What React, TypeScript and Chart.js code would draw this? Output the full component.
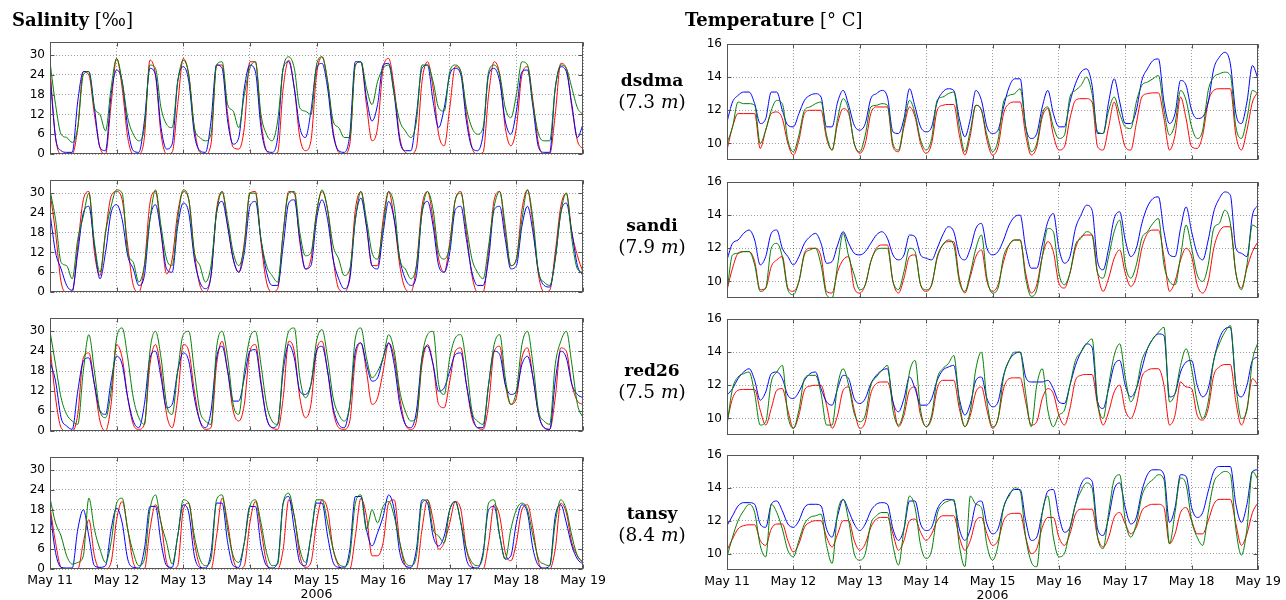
import React, { useEffect, useRef } from "react";
import { Chart, registerables } from "chart.js";

Chart.register(...registerables);

// ---------- axes / labels ----------
const HOURS: number[] = Array.from({ length: 97 }, (_, i) => i * 2); // hours after May 11 00:00, 2 h step
const DAY_TICKS = [0, 24, 48, 72, 96, 120, 144, 168, 192];
const DAY_LABELS = ["May 11", "May 12", "May 13", "May 14", "May 15", "May 16", "May 17", "May 18", "May 19"];
const YEAR_LABEL = "2006";
const SAL_TICKS = [0, 6, 12, 18, 24, 30];
const TEMP_TICKS = [10, 12, 14, 16];
const STATIONS = ["dsdma", "sandi", "red26", "tansy"];
const DEPTHS = ["7.3", "7.9", "7.5", "8.4"];

// ---------- salinity (‰), one value every 2 h, May 11 00:00 .. May 19 00:00 ----------
const dsdmaSalRed = [
  26, 5, 0, 0, 0, 8, 25, 24, 12, 2, 0, 15,
  29, 20, 5, 0, 0, 5, 28.5, 24, 6, 0, 0.5, 15,
  29, 24, 8, 0.5, 0, 3, 27, 27, 12, 2, 1.5, 8,
  28, 28, 10, 1, 0, 0.5, 20, 28.5, 20, 5, 1, 4,
  24, 29.5, 22, 7, 0.5, 0, 3, 27, 28, 15, 4, 8,
  26, 29, 20, 5, 0.5, 0, 2, 22, 28, 20, 6, 2.5,
  14, 26.5, 25, 12, 2, 0, 0.5, 18, 28, 24, 8, 2.5,
  8, 24, 26.5, 16, 3, 0, 0, 12, 27.5, 26, 14, 4,
  1.5,
];
const dsdmaSalBlue = [
  24, 5, 1, 0.5, 0.5, 16, 25, 25, 14, 2, 1, 18,
  25.5, 22, 8, 1, 0.5, 10, 26, 24, 8, 1.5, 3, 22,
  26.5, 22, 6, 1, 0.5, 10, 27, 26, 10, 3, 5, 20,
  27, 25, 8, 1, 0.5, 5, 26, 28, 20, 8, 5, 13,
  26, 27.5, 20, 6, 1, 0.5, 6, 28, 28, 17, 10, 15,
  27, 27.5, 18, 4, 1, 1, 12, 26, 27, 16, 8, 14,
  24, 26, 24, 10, 2, 1, 6, 24, 26, 22, 10, 6,
  13, 25, 25.5, 14, 2, 0.5, 0.5, 20, 26.5, 25, 15, 5,
  9,
];
const dsdmaSalGreen = [
  28, 15, 6, 5, 3.5, 8, 24, 25, 14, 12, 7, 20,
  29, 22, 11, 6, 4, 8, 27, 26, 14, 9, 8, 22,
  28.5, 24, 8, 5, 4, 6, 27, 28, 15, 13, 8, 18,
  26, 28, 12, 6, 4, 10, 26, 29.5, 26, 14, 13, 12,
  27, 29.5, 22, 10, 8, 5, 5, 27, 28, 20, 15, 22,
  26, 27, 18, 10, 7, 5, 10, 27, 27, 22, 14, 13,
  25, 27, 25, 14, 8, 6, 8, 25, 27, 24, 14, 11,
  18, 28, 27, 15, 6, 4, 4, 20, 27, 26, 20, 14,
  12,
];

const sandiSalRed = [
  30.5, 18, 3, 0, 0, 14, 28, 30.5, 12, 5, 18, 29,
  30.5, 28, 14, 2, 0, 8, 27, 30.5, 18, 5.5, 10, 24,
  30.5, 28, 12, 2, 0, 5, 25, 30.5, 20, 10, 6, 15,
  30, 30.5, 15, 3, 0, 1, 18, 30.5, 30, 15, 7, 10,
  24, 30.5, 25, 10, 1, 0, 5, 25, 30.5, 20, 8, 8,
  22, 30.5, 22, 8, 1, 0, 8, 26, 30.5, 22, 10, 6,
  15, 28, 30.5, 18, 5, 0, 0, 12, 28, 30.5, 18, 8,
  10, 25, 31, 20, 5, 0, 0.5, 12, 26, 30, 18, 11,
  6,
];
const sandiSalBlue = [
  24, 12, 7, 2, 0.5, 12, 24, 26, 14, 4, 12, 24,
  26.5, 22, 11, 7, 2, 5, 22, 26.5, 18, 7, 6, 20,
  27, 24, 10, 3, 1, 5, 24, 27.5, 20, 10, 6, 12,
  26, 27.5, 16, 6, 2, 2, 14, 27, 28, 16, 7, 8,
  22, 28, 22, 10, 4, 1, 4, 22, 28.5, 20, 8, 7,
  18, 27.5, 22, 10, 4, 2, 5, 24, 27.5, 20, 8, 6,
  12, 25, 26, 16, 6, 2, 2, 10, 25, 26, 16, 7,
  8, 20, 26, 18, 6, 2, 1.5, 10, 24, 27, 18, 8,
  5,
];
const sandiSalGreen = [
  31, 22, 9, 8, 4, 16, 23, 30, 15, 6, 18, 26,
  31, 30, 12, 9, 3, 8, 22, 31, 20, 10, 8, 22,
  31, 28, 12, 8, 3, 8, 24, 30.5, 22, 12, 8, 14,
  30, 30, 16, 8, 5, 3, 18, 30, 30.5, 18, 11, 12,
  24, 31, 25, 14, 10, 5, 7, 22, 30.5, 22, 12, 10,
  20, 30.5, 26, 10, 7, 4, 8, 24, 30.5, 25, 12, 10,
  14, 28, 30, 20, 10, 6, 4, 14, 26, 30.5, 20, 8,
  10, 22, 31, 22, 6, 3, 2, 10, 24, 30, 16, 7,
  6,
];

const red26SalRed = [
  25.5, 10, 1, 0, 0, 5, 22, 23.5, 14, 3, 0, 8,
  26, 22, 10, 2, 0.5, 2, 20, 26, 18, 5, 1, 10,
  26, 24, 12, 3, 0.5, 1, 20, 27, 18, 6, 3, 8,
  24, 26, 15, 4, 1, 0.5, 10, 27, 24, 10, 4, 8,
  24, 27, 18, 6, 1, 0.5, 3, 22, 26.5, 18, 8, 10,
  18, 26.5, 22, 10, 2, 0.5, 3, 20, 26, 20, 8, 7,
  15, 24, 25, 14, 4, 1, 0.5, 8, 24, 25.5, 14, 8,
  10, 22, 25, 16, 5, 1, 0.5, 10, 25, 24, 14, 9,
  8,
];
const red26SalBlue = [
  21, 15, 4, 1.5, 0.5, 12, 21, 22, 14, 6, 5, 15,
  22.5, 20, 10, 3, 1, 8, 22, 24, 16, 7, 8, 18,
  23.5, 21, 10, 3, 1, 6, 22, 25.5, 18, 9, 9, 16,
  24, 24.5, 14, 4, 1, 2, 18, 26, 22, 12, 11, 14,
  24, 25.5, 18, 7, 2, 1, 8, 24, 26.5, 20, 15, 16,
  22, 26.5, 20, 8, 2, 1, 6, 22, 25.5, 20, 12, 13,
  18, 23, 23.5, 14, 5, 1, 1, 14, 24, 23, 14, 11,
  12, 20, 22.5, 16, 5, 1, 0.5, 15, 24, 22, 14, 11,
  10,
];
const red26SalGreen = [
  30, 20, 10, 5, 3, 2, 18, 29, 18, 6, 4, 12,
  28, 31, 22, 10, 4, 2, 24, 30, 22, 8, 5, 18,
  29, 30, 18, 6, 3, 2, 25, 30, 22, 8, 5, 18,
  28, 30, 20, 8, 3, 2, 20, 30, 31, 16, 10, 14,
  27, 30.5, 22, 10, 5, 3, 8, 28, 31, 22, 16, 18,
  22, 29, 24, 12, 6, 3, 4, 22, 29, 30, 14, 11,
  22, 28, 29, 20, 6, 3, 2, 14, 26, 29, 16, 8,
  12, 26, 30, 20, 6, 3, 2, 20, 27, 30, 20, 8,
  4,
];

const tansySalRed = [
  19, 8, 0.5, 0, 0, 0, 8, 15, 4, 0, 0, 2,
  15, 20.5, 12, 2, 0, 0, 12, 19.5, 14, 2, 0, 1,
  18, 20, 8, 1, 0, 0, 10, 21.5, 14, 3, 0, 1,
  14, 20.5, 12, 2, 0, 0, 6, 21, 16, 4, 0.5, 2,
  14, 21, 18, 6, 1, 0, 0, 10, 21.5, 16, 4, 4,
  8, 20, 21, 8, 1, 0, 0, 12, 21, 15, 6, 8,
  14, 20.5, 18, 6, 1, 0, 0, 8, 19.5, 16, 5, 2.5,
  8, 18, 19.5, 12, 2, 0, 0, 6, 20, 17, 8, 4,
  2,
];
const tansySalBlue = [
  17.5, 5, 0.5, 0.3, 0.3, 12, 18, 10, 1, 0.5, 1, 12,
  18.5, 14, 3, 0.5, 0.3, 6, 19, 19, 8, 1, 0.5, 10,
  19.5, 17, 4, 0.5, 0.3, 5, 20, 20, 8, 1, 0.5, 8,
  19, 19, 7, 1, 0.3, 2, 20, 22, 12, 2, 1, 10,
  20, 20, 10, 2, 0.5, 0.3, 6, 22, 22, 12, 7, 11,
  16, 22.5, 18, 5, 1, 0.5, 6, 21, 20, 10, 7, 10,
  18, 20.5, 14, 3, 0.5, 0.3, 5, 18, 19, 10, 3, 4,
  14, 19.5, 17, 6, 1, 0.3, 1, 16, 19.5, 14, 7, 3,
  1.5,
];
const tansySalGreen = [
  21.5, 14, 10, 4, 1.5, 2, 4, 21.5, 12, 6, 2, 8,
  20, 21.5, 12, 5, 1, 3, 18, 22.5, 14, 8, 1.5, 10,
  21, 20, 10, 3, 1, 3, 21, 22.5, 12, 4, 2, 8,
  19, 21, 14, 5, 1, 1.5, 20, 23, 16, 6, 2, 10,
  21, 21, 14, 6, 1.5, 0.8, 4, 20, 22.5, 12, 18, 14,
  19, 20.5, 16, 8, 2, 1, 4, 20, 21, 12, 10, 8,
  18, 20.5, 14, 6, 2, 1, 4, 20, 21, 10, 3, 12,
  18, 20, 18, 10, 3, 1.5, 1, 14, 21, 18, 10, 4,
  2,
];

// ---------- temperature (°C), one value every 2 h ----------
const dsdmaTempRed = [
  9.6, 11.0, 11.8, 11.8, 11.8, 11.8, 9.7, 10.8, 11.8, 11.9, 11.5, 10.0,
  9.3, 10.2, 11.8, 12.0, 12.0, 12.0, 10.3, 9.6, 11.2, 12.1, 11.8, 10.0,
  9.4, 10.0, 11.8, 12.2, 12.2, 12.2, 9.8, 9.5, 11.0, 12.2, 11.6, 10.0,
  9.4, 10.0, 12.0, 12.3, 12.35, 12.35, 10.5, 9.3, 10.5, 12.3, 12.0, 10.2,
  9.3, 9.8, 11.8, 12.4, 12.5, 12.5, 10.5, 9.3, 9.8, 11.6, 12.1, 10.5,
  9.6, 9.8, 11.5, 12.6, 12.7, 12.7, 12.5, 9.8, 9.6, 11.0, 12.5, 11.2,
  9.8, 9.6, 11.2, 12.8, 13.0, 13.05, 13.05, 11.5, 9.6, 10.5, 12.8, 11.5,
  9.8, 9.7, 10.5, 12.5, 13.2, 13.3, 13.3, 13.3, 10.5, 9.6, 10.8, 12.5,
  13.1,
];
const dsdmaTempBlue = [
  11.3, 12.5, 12.9, 13.1, 13.1, 12.4, 11.2, 11.5, 13.1, 13.1, 12.0, 11.1,
  11.0, 11.8, 12.6, 12.9, 13.0, 12.8, 11.0, 11.0, 12.5, 13.2, 12.3, 11.1,
  10.8, 11.2, 12.7, 13.0, 13.2, 12.8, 10.7, 10.6, 11.5, 13.3, 12.2, 11.0,
  10.7, 11.0, 12.5, 13.1, 13.3, 13.2, 11.5, 10.4, 11.5, 13.2, 12.6, 11.0,
  10.6, 10.8, 12.2, 13.4, 13.9, 13.9, 11.0, 10.3, 10.6, 12.2, 13.2, 11.8,
  11.0, 11.0, 12.5, 13.6, 14.3, 14.5, 13.5, 10.6, 10.6, 12.5, 13.9, 12.5,
  11.2, 11.2, 12.0, 13.8, 14.5, 15.0, 15.1, 12.5, 11.2, 11.8, 13.8, 13.5,
  12.0, 11.5, 11.6, 12.5, 14.5, 15.2, 15.5, 14.8, 11.8, 11.2, 12.5, 14.7,
  13.9,
];
const dsdmaTempGreen = [
  10.0, 11.0, 12.5, 12.4, 12.4, 12.3, 10.0, 10.8, 12.0, 12.6, 12.4, 10.2,
  9.5, 10.5, 12.0, 12.2, 12.4, 12.5, 10.5, 9.6, 11.5, 12.7, 12.0, 10.0,
  9.5, 10.5, 12.2, 12.3, 12.4, 12.3, 10.0, 9.6, 11.2, 12.6, 11.8, 10.2,
  9.6, 10.3, 12.6, 12.8, 13.0, 13.1, 11.0, 9.5, 10.8, 12.3, 12.0, 10.5,
  9.5, 10.2, 12.5, 12.9, 13.0, 13.3, 11.0, 9.5, 10.0, 11.8, 12.2, 11.0,
  10.3, 10.5, 12.8, 13.2, 13.5, 14.0, 13.0, 10.7, 10.6, 12.0, 12.8, 11.8,
  11.0, 10.9, 12.5, 13.5, 13.7, 13.9, 14.1, 12.0, 10.5, 11.2, 13.2, 12.6,
  11.0, 10.3, 10.8, 13.2, 14.0, 14.2, 14.3, 14.1, 11.0, 10.3, 11.5, 13.2,
  13.0,
];

const sandiTempRed = [
  9.5, 10.8, 11.7, 11.8, 11.8, 11.2, 9.5, 9.6, 10.9, 11.3, 11.5, 9.6,
  9.4, 10.0, 11.7, 12.0, 12.0, 11.5, 9.4, 9.3, 10.6, 11.3, 11.5, 9.6,
  9.3, 9.8, 11.2, 12.0, 12.2, 12.2, 10.0, 9.3, 10.2, 11.5, 11.6, 9.8,
  9.4, 9.8, 11.4, 12.2, 12.4, 12.4, 10.2, 9.3, 10.3, 11.5, 11.9, 10.0,
  9.4, 9.8, 11.2, 12.2, 12.5, 12.5, 10.5, 9.3, 9.8, 11.5, 12.4, 11.8,
  9.9, 9.6, 10.5, 12.0, 12.7, 12.8, 12.8, 10.5, 9.4, 10.2, 11.4, 11.9,
  10.5, 9.7, 10.3, 12.0, 12.9, 13.1, 13.1, 11.5, 9.4, 10.0, 11.3, 12.0,
  11.5, 9.8, 9.3, 10.0, 12.0, 13.0, 13.3, 13.3, 10.5, 9.6, 10.8, 11.8,
  12.4,
];
const sandiTempBlue = [
  11.3, 12.3, 12.5, 12.9, 13.1, 12.5, 11.0, 11.5, 12.9, 13.1, 12.0, 11.5,
  11.0, 11.5, 12.3, 12.7, 12.9, 12.3, 11.1, 11.2, 12.2, 13.0, 12.3, 11.7,
  11.6, 11.8, 12.3, 12.8, 13.0, 12.6, 11.6, 11.3, 11.6, 12.8, 12.7, 11.6,
  11.4, 11.3, 12.0, 12.8, 13.3, 13.0, 11.6, 11.3, 12.0, 13.2, 13.5, 12.0,
  11.6, 11.8, 12.5, 13.4, 13.9, 14.0, 12.0, 10.8, 10.8, 12.2, 13.6, 14.1,
  12.0, 11.1, 11.5, 13.2, 14.0, 14.6, 14.3, 11.2, 10.7, 12.0, 13.8, 14.2,
  12.5, 11.5, 12.0, 13.5, 14.5, 15.0, 15.1, 13.0, 11.6, 11.5, 13.2, 14.5,
  13.0, 11.7, 11.3, 12.5, 14.2, 15.0, 15.4, 15.2, 12.0, 11.7, 11.5, 14.0,
  14.6,
];
const sandiTempGreen = [
  9.4, 11.6, 11.7, 11.8, 11.8, 11.0, 9.4, 9.6, 12.0, 12.3, 11.5, 9.5,
  9.2, 10.0, 11.6, 11.9, 12.0, 11.0, 9.2, 9.0, 11.0, 12.9, 11.5, 10.4,
  9.5, 9.8, 11.2, 11.9, 12.0, 12.0, 10.0, 9.5, 10.6, 12.0, 11.8, 9.8,
  9.5, 9.8, 11.5, 12.2, 12.5, 12.2, 10.0, 9.4, 10.5, 12.0, 12.8, 10.2,
  9.3, 9.6, 11.5, 12.2, 12.5, 12.5, 10.2, 9.1, 9.5, 11.5, 13.2, 13.0,
  10.5, 9.8, 10.5, 12.2, 12.6, 13.0, 12.8, 10.5, 10.2, 11.5, 13.0, 13.7,
  11.0, 10.2, 11.0, 12.6, 13.0, 13.5, 13.8, 11.0, 10.0, 9.8, 11.5, 13.4,
  12.0, 10.4, 10.0, 11.0, 13.2, 13.5, 14.3, 13.5, 10.5, 9.5, 11.0, 13.4,
  13.2,
];

const red26TempRed = [
  9.8, 11.2, 11.7, 11.75, 11.75, 11.75, 10.5, 9.6, 10.6, 11.7, 11.8, 10.5,
  9.4, 10.2, 11.7, 11.95, 12.0, 12.0, 10.8, 9.4, 10.2, 11.7, 11.9, 10.5,
  9.4, 9.8, 11.5, 12.1, 12.2, 12.2, 11.0, 9.5, 10.2, 11.7, 11.9, 10.2,
  9.5, 10.0, 11.8, 12.3, 12.3, 12.3, 10.6, 9.5, 10.2, 11.6, 11.9, 10.5,
  9.4, 10.0, 11.8, 12.4, 12.45, 12.45, 11.0, 9.6, 9.8, 11.2, 11.8, 11.5,
  10.2, 9.6, 10.6, 12.3, 12.6, 12.65, 12.65, 10.8, 9.6, 10.4, 11.6, 12.0,
  10.5, 10.0, 10.8, 12.5, 12.9, 13.0, 13.0, 12.0, 9.6, 10.2, 12.2, 11.9,
  11.8, 10.2, 9.9, 10.6, 12.6, 13.1, 13.25, 13.25, 11.0, 9.6, 10.6, 12.4,
  12.0,
];
const red26TempBlue = [
  11.4, 11.8, 12.4, 12.8, 13.0, 12.3, 11.1, 11.6, 12.7, 12.8, 12.4, 11.4,
  11.2, 11.6, 12.3, 12.7, 12.8, 11.8, 11.0, 10.8, 11.8, 12.6, 12.4, 11.2,
  10.9, 11.2, 12.1, 12.6, 12.9, 13.0, 11.0, 10.4, 11.2, 12.5, 11.8, 10.8,
  10.8, 11.2, 12.3, 12.9, 13.1, 13.2, 11.2, 10.2, 10.9, 12.3, 12.5, 11.2,
  10.7, 11.0, 12.6, 13.5, 13.9, 14.0, 12.5, 12.2, 12.2, 12.2, 12.3, 11.8,
  11.0, 10.9, 12.0, 13.2, 14.0, 14.5, 14.3, 11.0, 10.6, 11.8, 13.2, 13.5,
  12.0, 11.3, 11.8, 13.0, 14.2, 14.8, 15.1, 15.0, 11.3, 11.5, 12.8, 13.4,
  13.5, 12.0, 11.3, 11.8, 13.5, 14.8, 15.4, 15.5, 12.0, 11.3, 12.0, 13.5,
  13.7,
];
const red26TempGreen = [
  9.6, 11.8, 12.5, 12.7, 12.8, 11.5, 9.6, 9.8, 12.2, 12.8, 13.2, 10.2,
  9.4, 10.5, 12.4, 12.6, 12.6, 11.5, 9.6, 9.6, 12.0, 13.0, 12.0, 10.3,
  9.8, 10.2, 12.0, 12.5, 12.9, 13.2, 10.5, 9.6, 10.5, 12.8, 13.5, 10.5,
  9.5, 10.2, 12.4, 13.0, 13.3, 13.8, 11.0, 9.5, 10.5, 13.0, 14.0, 11.0,
  9.5, 10.0, 12.5, 13.5, 14.0, 14.0, 11.5, 9.5, 12.0, 13.0, 10.5, 9.5,
  10.2, 10.5, 12.0, 13.5, 14.0, 14.5, 14.8, 11.0, 10.0, 12.0, 13.8, 14.5,
  12.5, 11.0, 11.8, 13.5, 14.2, 14.8, 15.2, 15.5, 11.0, 11.5, 13.2, 14.2,
  13.0, 11.0, 10.0, 11.0, 13.5, 14.5, 15.2, 15.6, 12.0, 10.0, 10.5, 13.5,
  14.6,
];

const tansyTempRed = [
  10.2, 10.9, 11.5, 11.7, 11.75, 11.75, 10.8, 10.5, 11.5, 11.8, 11.8, 10.8,
  10.1, 10.6, 11.6, 11.9, 12.0, 12.0, 11.0, 10.4, 11.2, 12.0, 12.0, 10.8,
  10.2, 10.6, 11.6, 12.1, 12.2, 12.2, 11.2, 10.2, 10.8, 12.0, 12.1, 11.3,
  10.8, 11.2, 12.0, 12.3, 12.3, 12.3, 11.0, 10.2, 10.8, 12.0, 12.2, 11.2,
  10.5, 10.8, 12.0, 12.4, 12.45, 12.45, 11.0, 10.0, 10.3, 11.6, 12.2, 12.2,
  11.0, 10.5, 11.2, 12.4, 12.7, 12.7, 12.7, 11.0, 10.4, 11.0, 12.2, 12.5,
  11.8, 11.2, 11.6, 12.6, 12.9, 13.0, 13.0, 12.8, 10.6, 11.2, 12.5, 12.8,
  12.0, 11.2, 11.2, 12.0, 13.0, 13.3, 13.3, 13.3, 11.8, 10.5, 11.2, 12.5,
  13.1,
];
const tansyTempBlue = [
  11.7, 12.3, 12.9, 13.1, 13.1, 13.0, 11.8, 11.6, 13.0, 13.2, 12.6, 11.8,
  11.6, 12.0, 12.8, 13.0, 13.0, 12.9, 11.5, 11.0, 12.3, 13.3, 12.6, 11.8,
  11.4, 11.8, 12.6, 13.0, 13.1, 13.0, 11.5, 10.8, 11.5, 13.2, 13.2, 11.8,
  11.4, 11.6, 12.7, 13.2, 13.3, 13.2, 11.5, 10.8, 11.5, 13.0, 13.2, 11.8,
  11.2, 11.5, 12.8, 13.6, 13.9, 13.9, 12.0, 10.8, 11.0, 12.5, 13.8, 13.9,
  12.3, 11.3, 11.6, 13.0, 14.2, 14.6, 14.4, 11.5, 11.1, 12.2, 13.9, 14.3,
  12.8, 11.8, 12.2, 13.8, 14.8, 15.1, 15.1, 14.8, 11.9, 12.8, 14.8, 14.7,
  12.8, 12.2, 12.5, 13.8, 15.0, 15.3, 15.3, 15.3, 13.0, 11.9, 13.0, 15.0,
  15.1,
];
const tansyTempGreen = [
  9.8, 11.0, 12.0, 12.6, 13.0, 12.5, 10.5, 9.8, 13.0, 12.5, 11.5, 10.2,
  9.8, 10.8, 11.8, 12.2, 12.3, 12.4, 10.5, 9.4, 12.5, 13.3, 12.0, 10.0,
  9.6, 10.0, 11.8, 12.3, 12.5, 12.5, 10.5, 9.3, 11.5, 13.5, 12.8, 10.5,
  9.7, 10.2, 12.4, 13.0, 13.2, 13.3, 10.5, 9.2, 13.5, 13.0, 12.8, 10.5,
  9.6, 10.5, 12.8, 13.5, 14.0, 13.8, 11.0, 9.5, 9.2, 12.5, 13.5, 11.0,
  9.8, 10.0, 11.5, 13.0, 13.8, 14.3, 14.0, 11.0, 10.3, 12.5, 14.5, 14.8,
  12.0, 11.0, 11.8, 13.5, 14.2, 14.5, 14.8, 14.5, 10.6, 12.5, 14.6, 14.2,
  12.0, 11.0, 10.5, 12.5, 14.3, 14.8, 15.0, 14.8, 11.5, 9.9, 11.5, 15.0,
  14.5,
];

// ---------- tables built from the arrays above ----------
const SAL_SERIES = [
  [dsdmaSalRed, dsdmaSalBlue, dsdmaSalGreen],
  [sandiSalRed, sandiSalBlue, sandiSalGreen],
  [red26SalRed, red26SalBlue, red26SalGreen],
  [tansySalRed, tansySalBlue, tansySalGreen],
];
const TEMP_SERIES = [
  [dsdmaTempRed, dsdmaTempBlue, dsdmaTempGreen],
  [sandiTempRed, sandiTempBlue, sandiTempGreen],
  [red26TempRed, red26TempBlue, red26TempGreen],
  [tansyTempRed, tansyTempBlue, tansyTempGreen],
];

// ---------- layout ----------
type Rect = { x: number; y: number; w: number; h: number };
const LEFT_RECTS: Rect[] = [
  { x: 50, y: 42, w: 533, h: 112 },
  { x: 50, y: 180, w: 533, h: 112 },
  { x: 50, y: 318, w: 533, h: 113 },
  { x: 50, y: 457, w: 533, h: 112 },
];
const RIGHT_RECTS: Rect[] = [
  { x: 727, y: 44, w: 531, h: 116 },
  { x: 727, y: 182, w: 531, h: 116 },
  { x: 727, y: 319, w: 531, h: 116 },
  { x: 727, y: 455, w: 531, h: 115 },
];
const LABEL_CENTERS = [80, 225, 370, 513];
const COLORS = { red: "#ff0000", blue: "#0000ff", green: "#008000" };
const GRID = "rgba(0,0,0,0.38)";
const X_TICK_FONT = { family: "'DejaVu Sans'", size: 12.5 };
const Y_TICK_FONT = { family: "'DejaVu Sans'", size: 12 };
const SERIF = "'DejaVu Serif', serif";

const PAD_L = 45;
const PAD_R = 32;
const PAD_T = 14;

const framePlugin = {
  id: "frame",
  afterDraw(chart: any) {
    const { ctx, chartArea: a, scales } = chart;
    const l = Math.round(a.left) + 0.5;
    const r = Math.round(a.right) - 0.5;
    const t = Math.round(a.top) + 0.5;
    const b = Math.round(a.bottom) - 0.5;
    ctx.save();
    ctx.strokeStyle = "#555555";
    ctx.lineWidth = 1;
    ctx.setLineDash([]);
    ctx.strokeRect(l, t, r - l, b - t);
    ctx.beginPath();
    for (const tk of scales.y.ticks) {
      const y = Math.round(scales.y.getPixelForValue(tk.value)) + 0.5;
      ctx.moveTo(l, y); ctx.lineTo(l + 4, y);
      ctx.moveTo(r, y); ctx.lineTo(r - 4, y);
    }
    for (const tk of scales.x.ticks) {
      const x = Math.round(scales.x.getPixelForValue(tk.value)) + 0.5;
      ctx.moveTo(x, b); ctx.lineTo(x, b - 4);
      ctx.moveTo(x, t); ctx.lineTo(x, t + 4);
    }
    ctx.stroke();
    ctx.restore();
  },
};

type PanelProps = {
  rect: Rect;
  yMin: number;
  yMax: number;
  yTicks: number[];
  series: number[][];
  showX: boolean;
};

function Panel({ rect, yMin, yMax, yTicks, series, showX }: PanelProps) {
  const ref = useRef<HTMLCanvasElement>(null);
  const padB = showX ? 33 : 14;
  const cw = PAD_L + rect.w + PAD_R;
  const ch = PAD_T + rect.h + padB;

  useEffect(() => {
    const canvas = ref.current;
    if (!canvas) return;
    const [red, blue, green] = series;
    const mk = (vals: number[], color: string) => ({
      data: HOURS.map((h, i) => ({ x: h, y: vals[i] })),
      borderColor: color,
      backgroundColor: color,
      borderWidth: 1,
      pointRadius: 0,
      pointHoverRadius: 0,
      fill: false,
      cubicInterpolationMode: "monotone" as const,
    });
    const chart = new Chart(canvas, {
      type: "line",
      data: {
        // first dataset is painted last (on top)
        datasets: [mk(green, COLORS.green), mk(blue, COLORS.blue), mk(red, COLORS.red)],
      },
      options: {
        responsive: false,
        animation: false,
        devicePixelRatio: 1,
        events: [],
        layout: { padding: { top: PAD_T, right: PAD_R, left: 0, bottom: 0 } },
        plugins: { legend: { display: false }, tooltip: { enabled: false } },
        scales: {
          x: {
            type: "linear",
            min: 0,
            max: 192,
            afterBuildTicks: (s: any) => {
              s.ticks = DAY_TICKS.map((v) => ({ value: v }));
            },
            afterFit: (s: any) => {
              s.height = padB;
            },
            ticks: {
              display: showX,
              autoSkip: false,
              maxRotation: 0,
              padding: 4,
              color: "#000",
              font: X_TICK_FONT,
              callback: (_v: any, i: number) => DAY_LABELS[i],
            },
            grid: { color: GRID, lineWidth: 1, drawTicks: false },
            border: { display: false, dash: [1, 2] },
            title: {
              display: showX,
              text: YEAR_LABEL,
              color: "#000",
              font: X_TICK_FONT,
              padding: 0,
            },
          },
          y: {
            type: "linear",
            min: yMin,
            max: yMax,
            afterBuildTicks: (s: any) => {
              s.ticks = yTicks.map((v) => ({ value: v }));
            },
            afterFit: (s: any) => {
              s.width = PAD_L;
            },
            ticks: {
              padding: 5,
              color: "#000",
              font: Y_TICK_FONT,
              callback: (v: any) => String(v),
            },
            grid: { color: GRID, lineWidth: 1, drawTicks: false },
            border: { display: false, dash: [1, 2] },
          },
        },
      },
      plugins: [framePlugin],
    } as any);
    return () => chart.destroy();
  }, []);

  return (
    <canvas
      ref={ref}
      width={cw}
      height={ch}
      style={{ position: "absolute", left: rect.x - PAD_L, top: rect.y - PAD_T, width: cw, height: ch }}
    />
  );
}

export default function App() {
  return (
    <div
      style={{
        position: "absolute",
        left: 0,
        top: 0,
        width: 1286,
        height: 600,
        overflow: "hidden",
        background: "#ffffff",
        color: "#000",
      }}
    >
      {SAL_SERIES.map((s, i) => (
        <Panel key={"s" + i} rect={LEFT_RECTS[i]} yMin={0} yMax={34} yTicks={SAL_TICKS} series={s} showX={i === 3} />
      ))}
      {TEMP_SERIES.map((s, i) => (
        <Panel key={"t" + i} rect={RIGHT_RECTS[i]} yMin={9} yMax={16} yTicks={TEMP_TICKS} series={s} showX={i === 3} />
      ))}

      <div style={{ position: "absolute", left: 12, top: 8, fontFamily: SERIF, fontSize: 18, lineHeight: "24px", whiteSpace: "nowrap" }}>
        <b>Salinity</b> <span>[‰]</span>
      </div>
      <div style={{ position: "absolute", left: 685, top: 8, fontFamily: SERIF, fontSize: 18, lineHeight: "24px", whiteSpace: "nowrap" }}>
        <b>Temperature</b> <span>[° C]</span>
      </div>

      {STATIONS.map((name, i) => (
        <div
          key={name}
          style={{
            position: "absolute",
            left: 552,
            width: 200,
            top: LABEL_CENTERS[i] - 11,
            textAlign: "center",
            fontFamily: SERIF,
            lineHeight: "22px",
          }}
        >
          <div style={{ fontWeight: "bold", fontSize: 17 }}>{name}</div>
          <div style={{ fontSize: 18.5 }}>
            ({DEPTHS[i]} <i>m</i>)
          </div>
        </div>
      ))}
    </div>
  );
}
